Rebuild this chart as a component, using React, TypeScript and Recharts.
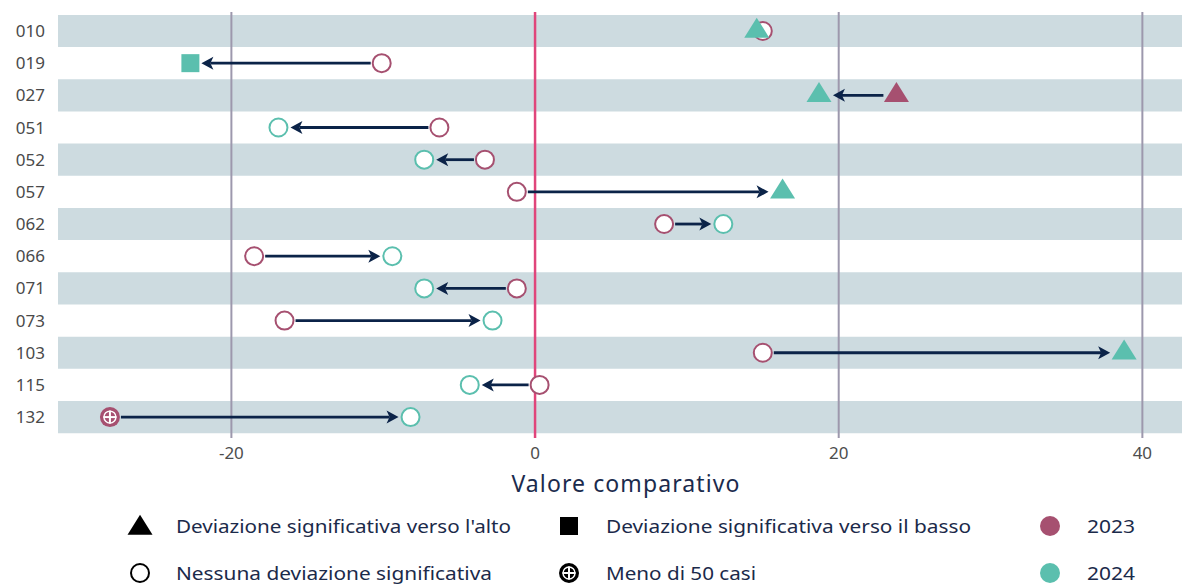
import React from 'react';
import { ScatterChart, Scatter, XAxis, YAxis, ReferenceArea, ReferenceLine } from 'recharts';

const categories = ['010', '019', '027', '051', '052', '057', '062', '066', '071', '073', '103', '115', '132'];
const values2023 = [15.0, -10.1, 23.8, -6.3, -3.3, -1.2, 8.5, -18.5, -1.2, -16.5, 15.0, 0.3, -28.0];
const values2024 = [14.6, -22.7, 18.7, -16.9, -7.3, 16.3, 12.4, -9.4, -7.3, -2.8, 38.8, -4.3, -8.2];
const status2023 = ['none', 'none', 'up', 'none', 'none', 'none', 'none', 'none', 'none', 'none', 'none', 'none', 'few'];
const status2024 = ['up', 'down', 'up', 'none', 'none', 'up', 'none', 'none', 'none', 'none', 'up', 'none', 'none'];
const xTicks = [-20, 0, 20, 40];
const legendShapes = ['Deviazione significativa verso l\'alto', 'Deviazione significativa verso il basso', 'Nessuna deviazione significativa', 'Meno di 50 casi'];
const legendYears = ['2023', '2024'];

const PINK = '#a65070';
const TEAL = '#5bbfae';
const NAVY = '#0b2348';
const BAND = '#cddbe0';
const GRID = '#9d98ad';
const ZERO = '#e0457b';
const FONT = '"Noto Sans", sans-serif';

const data2023 = categories.map((c, i) => ({ x: values2023[i], y: i, status: status2023[i] }));
const data2024 = categories.map((c, i) => ({ x: values2024[i], y: i, status: status2024[i] }));

const offsetFor = (s: string) => (s === 'up' ? 13 : s === 'down' ? 10 : 11);

function drawMarker(cx: number, cy: number, status: string, color: string) {
  if (status === 'up') {
    const w = 12.5, h = 20;
    return <polygon points={`${cx},${cy - (2 * h) / 3} ${cx + w},${cy + h / 3} ${cx - w},${cy + h / 3}`} fill={color} />;
  }
  if (status === 'down') {
    return <rect x={cx - 9} y={cy - 9} width={18} height={18} fill={color} />;
  }
  if (status === 'few') {
    return (
      <g>
        <circle cx={cx} cy={cy} r={10} fill={color} />
        <circle cx={cx} cy={cy} r={6} fill="none" stroke="#fff" strokeWidth={1.4} />
        <line x1={cx - 6.5} y1={cy} x2={cx + 6.5} y2={cy} stroke="#fff" strokeWidth={2} />
        <line x1={cx} y1={cy - 6.5} x2={cx} y2={cy + 6.5} stroke="#fff" strokeWidth={2} />
      </g>
    );
  }
  if (status === 'dot') {
    return <circle cx={cx} cy={cy} r={10} fill={color} />;
  }
  return <circle cx={cx} cy={cy} r={9} fill="#fff" stroke={color} strokeWidth={2} />;
}

function makeShape(color: string) {
  return (props: any) => {
    const { cx, cy, payload } = props;
    return drawMarker(cx, cy, payload.status, color);
  };
}

function makeArrow(startOff: number, endOff: number) {
  return (p: any) => {
    const { x1, y1, x2 } = p;
    const dir = Math.sign(x2 - x1) || 1;
    const sx = x1 + dir * startOff;
    const tip = x2 - dir * endOff;
    const headLen = 12;
    const half = 6.5;
    const base = tip - dir * headLen;
    return (
      <g>
        <line x1={sx} y1={y1} x2={base + dir * 3} y2={y1} stroke={NAVY} strokeWidth={2.8} />
        <polygon points={`${tip},${y1} ${base},${y1 - half} ${base + dir * 3},${y1} ${base},${y1 + half}`} fill={NAVY} />
      </g>
    );
  };
}

export default function App() {
  return (
    <div style={{ position: 'absolute', left: 0, top: 0, width: 1182, height: 587, background: '#fff' }}>
      <ScatterChart width={1182} height={587} margin={{ top: 12, right: 0, bottom: 89, left: 0 }} style={{ fontFamily: FONT }}>
        <XAxis
          type="number"
          dataKey="x"
          domain={[-31.42, 42.61]}
          allowDataOverflow
          ticks={xTicks}
          axisLine={false}
          tickLine={false}
          tickSize={0}
          tickMargin={9}
          height={60}
          tick={{ fontSize: 17, fill: '#4d4d4d', fontFamily: FONT }}
          label={{ value: 'Valore comparativo', position: 'insideBottom', offset: 6, dx: 6, style: { fontSize: 23, letterSpacing: 1.1, fill: '#1b2b4d', fontFamily: FONT } }}
        />
        <YAxis
          type="number"
          dataKey="y"
          domain={[-0.59, 12.65]}
          allowDataOverflow
          reversed
          ticks={categories.map((c, i) => i)}
          interval={0}
          tickFormatter={(v: number) => categories[v] ?? ''}
          axisLine={false}
          tickLine={false}
          tickSize={0}
          tickMargin={13}
          width={58}
          tick={{ fontSize: 17, fill: '#4a4a4a', fontFamily: FONT }}
        />
        {categories.map((c, i) =>
          i % 2 === 0 ? (
            <ReferenceArea key={'b' + c} y1={i - 0.5} y2={i + 0.5} fill={BAND} fillOpacity={1} stroke="none" ifOverflow="visible" />
          ) : null
        )}
        {xTicks.filter((t) => t !== 0).map((t) => (
          <ReferenceLine key={'g' + t} x={t} stroke={GRID} strokeWidth={2} />
        ))}
        <ReferenceLine x={0} stroke={ZERO} strokeWidth={2.5} />
        {categories.map((c, i) =>
          Math.abs(values2024[i] - values2023[i]) > 1.5 ? (
            <ReferenceLine
              key={'a' + c}
              segment={[{ x: values2023[i], y: i }, { x: values2024[i], y: i }]}
              ifOverflow="visible"
              shape={makeArrow(offsetFor(status2023[i]), offsetFor(status2024[i]) + 1)}
            />
          ) : null
        )}
        <Scatter name="2023" data={data2023} shape={makeShape(PINK)} isAnimationActive={false} />
        <Scatter name="2024" data={data2024} shape={makeShape(TEAL)} isAnimationActive={false} />
      </ScatterChart>
      <svg width={1182} height={587} style={{ position: 'absolute', left: 0, top: 0, pointerEvents: 'none' }}>
        <g fontFamily={FONT} fontSize={18} fill="#1b2a4a">
          {drawMarker(140, 528, 'up', '#000')}
          <text x={176} y={533} textLength={335} lengthAdjust="spacingAndGlyphs">{legendShapes[0]}</text>
          {drawMarker(569, 526, 'down', '#000')}
          <text x={606} y={533} textLength={365} lengthAdjust="spacingAndGlyphs">{legendShapes[1]}</text>
          {drawMarker(1050, 526, 'dot', PINK)}
          <text x={1087} y={533} textLength={48} lengthAdjust="spacingAndGlyphs">{legendYears[0]}</text>
          {drawMarker(140, 573, 'none', '#000')}
          <text x={176} y={580} textLength={316} lengthAdjust="spacingAndGlyphs">{legendShapes[2]}</text>
          {drawMarker(569, 573, 'few', '#000')}
          <text x={606} y={580} textLength={150} lengthAdjust="spacingAndGlyphs">{legendShapes[3]}</text>
          {drawMarker(1050, 573, 'dot', TEAL)}
          <text x={1087} y={580} textLength={48} lengthAdjust="spacingAndGlyphs">{legendYears[1]}</text>
        </g>
      </svg>
    </div>
  );
}
